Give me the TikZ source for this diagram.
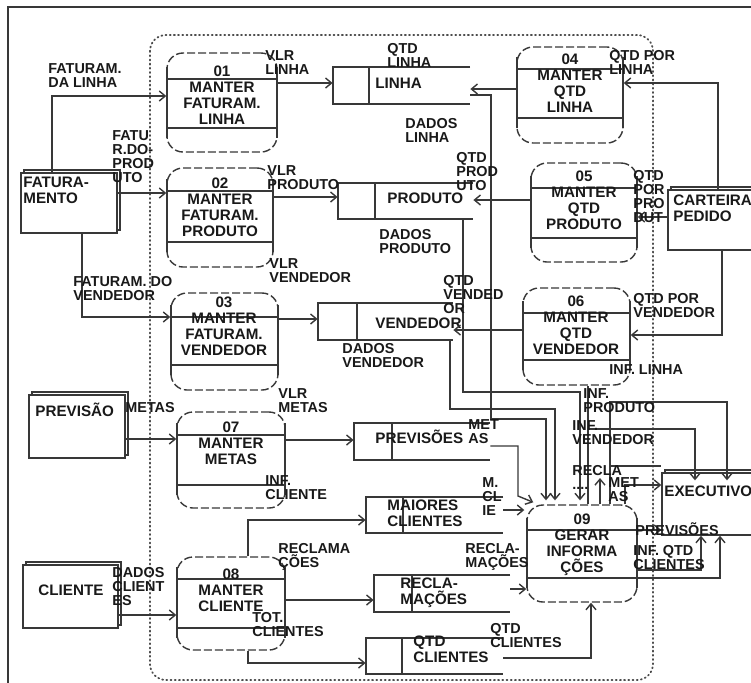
\documentclass[tikz,border=0pt]{standalone}
\usepackage{fontspec}
\setmainfont{Liberation Sans}
\usetikzlibrary{arrows.meta,fit}
\newcommand\lbf{\fontsize{7.2}{7}\selectfont\bfseries}
\newcommand\pbf{\fontsize{7.6}{8}\selectfont\bfseries}
% process: name, x1, y1, x2, y2, line1, line2
\newcommand\procx[7]{%
  \path (#2,#3) coordinate (#1a) (#4,#5) coordinate (#1b);
  \node[procbox, fit=(#1a)(#1b)] (#1) {};
  \draw[ln] (#2,#6) -- (#4,#6) (#2,#7) -- (#4,#7)
            (#2,{#6-12}) -- (#2,{#7+10}) (#4,{#6-12}) -- (#4,{#7+10});
}
% store: name, x1, divider, x2, y1, y2
\newcommand\storex[6]{%
  \path (#2,#5) coordinate (#1a) (#4,#6) coordinate (#1b);
  \node[inner sep=0pt, fit=(#1a)(#1b)] (#1) {};
  \draw[ln] (#4,#5) -- (#2,#5) -- (#2,#6) -- (#4,#6) (#3,#5) -- (#3,#6);
}
% entity: name, x1, y1, x2, y2
\newcommand\entx[5]{%
  \draw[ln, fill=white] ({#2+3},{#3-3}) rectangle ({#4+3},{#5-3});
  \path (#2,#3) coordinate (#1a) (#4,#5) coordinate (#1b);
  \node[entbox, fit=(#1a)(#1b)] (#1) {};
}
\begin{document}
\begin{tikzpicture}[x=0.5pt,y=-0.5pt,
  ln/.style={draw=black!78,line width=0.7pt},
  arr/.style={ln,-{Straight Barb[length=3pt,width=5pt]}},
  lbl/.style={anchor=north west,inner sep=0pt,align=left,font=\lbf,text=black!90},
  stx/.style={anchor=north west,inner sep=0pt,align=left,font=\pbf,text=black!90},
  ptxt/.style={anchor=north,inner sep=0pt,align=center,font=\pbf,text=black!90},
  procbox/.style={draw=black!78,line width=0.7pt,dash pattern=on 4pt off 1.5pt,rounded corners=8pt,inner sep=0pt},
  entbox/.style={draw=black!78,line width=0.7pt,fill=white,inner sep=0pt},
  region/.style={draw=black!70,line width=0.9pt,dash pattern=on 0.5pt off 1.6pt,line cap=round,rounded corners=8pt}]
\useasboundingbox (0,0) rectangle (751,682);
\fill[white] (0,0) rectangle (751,682);
% outer frame
\draw[ln,line width=0.8pt] (8,7) rectangle (790,700);
% system boundary
\draw[region] (150,35) rectangle (653,680);

% processes
\procx{p01}{167}{53}{277}{152}{79}{128}
\procx{p02}{167}{168}{273}{267}{191}{242}
\procx{p03}{171}{293}{278}{390}{317}{365}
\procx{p04}{517}{47}{623}{143}{69}{118}
\procx{p05}{531}{163}{637}{262}{188}{238}
\procx{p06}{523}{288}{630}{385}{313}{360}
\procx{p07}{177}{412}{285}{508}{435}{485}
\procx{p08}{177}{557}{285}{650}{579}{628}
\procx{p09}{527}{505}{637}{602}{530}{578}

\node[ptxt] (t01) at (222,65) {01\\MANTER\\FATURAM.\\LINHA};
\node[ptxt] (t02) at (220,177) {02\\MANTER\\FATURAM.\\PRODUTO};
\node[ptxt] (t03) at (224,296) {03\\MANTER\\FATURAM.\\VENDEDOR};
\node[ptxt] (t04) at (570,53) {04\\MANTER\\QTD\\LINHA};
\node[ptxt] (t05) at (584,170) {05\\MANTER\\QTD\\PRODUTO};
\node[ptxt] (t06) at (576,295) {06\\MANTER\\QTD\\VENDEDOR};
\node[ptxt] (t07) at (231,421) {07\\MANTER\\METAS};
\node[ptxt] (t08) at (231,568) {08\\MANTER\\CLIENTE};
\node[ptxt] (t09) at (582,513) {09\\GERAR\\INFORMA\\ÇÕES};

% data stores
\storex{slinha}{333}{369}{470}{67}{104}
\storex{sprod}{338}{375}{473}{183}{219}
\storex{svend}{318}{357}{453}{303}{340}
\storex{sprevs}{354}{392}{490}{423}{460}
\storex{smai}{366}{403}{503}{497}{533}
\storex{srec}{374}{412}{510}{575}{612}
\storex{sqtd}{366}{402}{503}{638}{674}

\node[stx] (tslinha) at (375,78) {LINHA};
\node[stx] (tsprod) at (387,192) {PRODUTO};
\node[stx] (tsvend) at (375,317) {VENDEDOR};
\node[stx] (tsprevs) at (375,430) {PREVISÕES};
\node[stx] (tsmai) at (387,499) {MAIORES\\CLIENTES};
\node[stx] (tsrec) at (400,577) {RECLA-\\MAÇÕES};
\node[stx] (tsqtd) at (413,635) {QTD\\CLIENTES};

% external entities
\entx{fat}{21}{173}{117}{233}
\entx{prev}{29}{395}{125}{458}
\entx{cli}{23}{565}{118}{628}
\entx{cart}{668}{190}{800}{250}
\entx{exec}{662}{473}{800}{535}

\node[stx] (tfat) at (23,177) {FATURA-\\MENTO};
\node[stx] (tprev) at (35,403) {PREVISÃO};
\node[stx] (tcli) at (38,584) {CLIENTE};
\node[stx] (tcart) at (673,194) {CARTEIRA\\PEDIDO};
\node[stx] (texec) at (664,485) {EXECUTIVO};

% flows
\draw[arr] (fat.north -| 52,0) |- (p01.west |- 0,96);
\draw[arr] (fat.east |- 0,193) -- (p02.west |- 0,193);
\draw[arr] (fat.south -| 82,0) |- (p03.west |- 0,317);
\draw[arr] (p01.east |- 0,83) -- (slinha.west |- 0,83);
\draw[arr] (p02.east |- 0,197) -- (sprod.west |- 0,197);
\draw[arr] (p03.east |- 0,319) -- (svend.west |- 0,319);
\draw[arr] (p04.west |- 0,89) -- (slinha.east |- 0,89);
\draw[arr] (cart.north -| 718,0) |- (p04.east |- 0,83);
\draw[arr] (p05.west |- 0,200) -- (sprod.east |- 0,200);
\draw[arr] (cart.west |- 0,217) -- (p05.east |- 0,217);
\draw[arr] (p06.west |- 0,330) -- (svend.east |- 0,330);
\draw[arr] (cart.south -| 722,0) |- (p06.east |- 0,335);
\draw[arr] (prev.east |- 0,439) -- (p07.west |- 0,439);
\draw[arr] (p07.east |- 0,440) -- (sprevs.west |- 0,440);
\draw[arr] (cli.east |- 0,615) -- (p08.west |- 0,615);
\draw[arr] (p08.north -| 248,0) |- (smai.west |- 0,520);
\draw[arr] (p08.east |- 0,600) -- (srec.west |- 0,600);
\draw[arr] (p08.south -| 248,0) |- (sqtd.west |- 0,663);
% into 09
\draw[arr] (slinha.east |- 0,95) -| (491,419) -| ([yshift=2]p09.north -| 546,0);
\draw[arr] (sprod.south -| 463,0) |- (580,392) -- ([yshift=2]p09.north -| 580,0);
\draw[arr] (svend.south -| 450,0) |- (555,409) -- ([yshift=2]p09.north -| 555,0);
\draw[arr] (sprevs.east |- 0,446) -| (518,496) -- ([shift={(7,-2)}]p09.north west);
\draw[arr] (smai.east |- 0,510) -- ([xshift=-1]p09.west |- 0,510);
\draw[arr] (srec.east |- 0,589) -- (p09.west |- 0,589);
\draw[arr] (sqtd.east |- 0,658) -| (p09.south -| 591,0);
\draw[ln] (p09.north -| 588,0) -- (p06.south -| 588,0);
% out of 09
\draw[arr] (588,429) -| ([yshift=-4]exec.north -| 695,0);
\draw[arr] (p09.north -| 600,0) -- (600,478);
\draw[arr] (p09.north -| 610,0) |- (727,402) -- ([yshift=-4]exec.north -| 727,0);
\draw[ln] (610,466) -- (exec.north west |- 0,466);
\draw[arr] (p09.north -| 625,0) |- (exec.west |- 0,485);
\draw[arr] (p09.east |- 0,530) -- (exec.west |- 0,530);
\draw[arr] (p09.east |- 0,570) -| (exec.south -| 701,0);
\draw[arr] (p09.east |- 0,578) -| (exec.south -| 720,0);

% flow labels
\node[lbl] (l1) at (48,63) {FATURAM.\\DA LINHA};
\node[lbl] (l2) at (112,130) {FATU\\R.DO-\\PROD\\UTO};
\node[lbl] (l3) at (73,276) {FATURAM. DO\\VENDEDOR};
\node[lbl] (l4) at (265,50) {VLR\\LINHA};
\node[lbl] (l5) at (267,165) {VLR\\PRODUTO};
\node[lbl] (l6) at (269,258) {VLR\\VENDEDOR};
\node[lbl] (l7) at (387,43) {QTD\\LINHA};
\node[lbl] (l8) at (609,50) {QTD POR\\LINHA};
\node[lbl] (l9) at (405,118) {DADOS\\LINHA};
\node[lbl] (l10) at (456,152) {QTD\\PROD\\UTO};
\node[lbl] (l11) at (633,170) {QTD\\POR\\PRO\\DUT};
\node[lbl] (l12) at (379,229) {DADOS\\PRODUTO};
\node[lbl] (l13) at (443,275) {QTD\\VENDED\\OR};
\node[lbl] (l14) at (633,293) {QTD POR\\VENDEDOR};
\node[lbl] (l15) at (342,343) {DADOS\\VENDEDOR};
\node[lbl] (l16) at (609,364) {INF. LINHA};
\node[lbl] (l17) at (583,388) {INF.\\PRODUTO};
\node[lbl] (l18) at (572,420) {INF.\\VENDEDOR};
\node[lbl] (l19) at (572,465) {RECLA\\....};
\node[lbl] (l20) at (608,477) {MET\\AS};
\node[lbl] (l21) at (468,419) {MET\\AS};
\node[lbl] (l22) at (482,477) {M.\\CL\\IE};
\node[lbl] (l23) at (465,543) {RECLA-\\MAÇÕES};
\node[lbl] (l24) at (490,623) {QTD\\CLIENTES};
\node[lbl] (l25) at (635,522) {PREVISÕES};
\node[lbl] (l26) at (633,545) {INF. QTD\\CLIENTES};
\node[lbl] (l27) at (125,402) {METAS};
\node[lbl] (l28) at (278,388) {VLR\\METAS};
\node[lbl] (l29) at (265,475) {INF.\\CLIENTE};
\node[lbl] (l30) at (278,543) {RECLAMA\\ÇÕES};
\node[lbl] (l31) at (112,567) {DADOS\\CLIENT\\ES};
\node[lbl] (l32) at (252,612) {TOT.\\CLIENTES};
\end{tikzpicture}
\end{document}
